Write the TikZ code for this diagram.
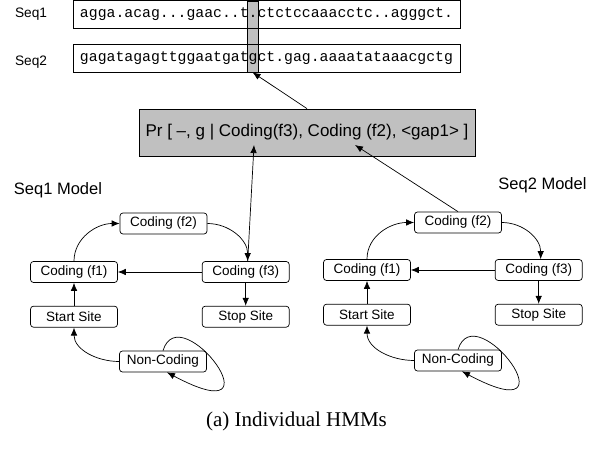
\documentclass[tikz,border=0pt]{standalone}
\usepackage{fontspec}
\setmainfont{Liberation Serif}
\setsansfont{Liberation Sans}
\setmonofont{Liberation Mono}
\usetikzlibrary{positioning,arrows.meta}
\usepackage{xcolor}
\definecolor{HMMGray}{RGB}{192,192,192}

\begin{document}
\begin{tikzpicture}[
x=1pt,y=1pt,
node distance=23pt and 84pt,
hmmstate/.style={rectangle,rounded corners=3pt,draw,line width=0.7pt,
minimum width=87pt,minimum height=21pt,inner sep=0pt,font=\sffamily\fontsize{13.5}{14}\selectfont},
seqbox/.style={rectangle,draw,line width=0.7pt,minimum width=387pt,minimum height=28pt,
inner sep=0pt,font=\ttfamily\fontsize{14.8}{15}\selectfont},
seqlabel/.style={font=\sffamily\fontsize{13.7}{14}\selectfont},
modellabel/.style={font=\sffamily\fontsize{16.5}{17}\selectfont},
arrow/.style={-{Latex[length=8pt,width=6.5pt]},line width=0.7pt}
]
\useasboundingbox (0,0) rectangle (603,455);
% sequences
\node[draw,line width=0.7pt,fill=HMMGray,minimum width=11pt,minimum height=71pt,inner sep=0pt] (col) at (252.5,418.5) {};
\node[seqlabel] (l1) at (31,441) {Seq1};
\node[seqlabel] (l2) at (31,393) {Seq2};
\node[seqbox] (seq1) at (266.5,440.5) {agga.acag...gaac..t.ctctccaaacctc..agggct.};
\node[seqbox] (seq2) at (266.5,397) {gagatagagttggaatgatgct.gag.aaaatataaacgctg};
\node[draw,line width=0.7pt,fill=HMMGray,minimum width=336pt,minimum height=47pt,
font=\sffamily\fontsize{17}{18}\selectfont] (pr) at (307,322.5) {Pr [ –, g | Coding(f3), Coding (f2), <gap1> ]};
\coordinate (pf3) at (254,310);
\coordinate (pf2) at (355,310);
% Seq1 model
\node[modellabel] (m1) at (58,265) {Seq1 Model};
\node[hmmstate] (s1f1) at (74,183) {Coding (f1)};
\node[hmmstate,right=of s1f1] (s1f3) {Coding (f3)};
\node[hmmstate,below=of s1f1] (s1start) {Start Site};
\node[hmmstate,below=of s1f3] (s1stop) {Stop Site};
\node[hmmstate] (s1f2) at (163.5,231.5) {Coding (f2)};
\node[hmmstate] (s1nc) at (163,93.5) {Non-Coding};
% Seq2 model
\node[modellabel] (m2) at (542.5,270) {Seq2 Model};
\node[hmmstate] (s2f1) at (367,185) {Coding (f1)};
\node[hmmstate,right=of s2f1] (s2f3) {Coding (f3)};
\node[hmmstate,below=of s2f1] (s2start) {Start Site};
\node[hmmstate,below=of s2f3] (s2stop) {Stop Site};
\node[hmmstate] (s2f2) at (458,232.5) {Coding (f2)};
\node[hmmstate] (s2nc) at (458,94.5) {Non-Coding};
\node[font=\fontsize{21}{23}\selectfont] (cap) at (296.5,34) {(a) Individual HMMs};
% transitions
\draw[arrow] (s1f1.north) to[out=90,in=180] (s1f2.west); \draw[arrow] (s1f2.east) to[out=0,in=90] ([xshift=2pt]s1f3.north);
\draw[arrow] (s1f3) -- (s1f1); \draw[arrow] (s1f3) -- (s1stop); \draw[arrow] (s1start) -- (s1f1);
\draw[arrow] (s1nc.west) to[out=180,in=-90] (s1start.south);
\draw[arrow] (s1nc.north) .. controls +(17,56) and +(118,-63) .. ([xshift=4pt]s1nc.south);
\draw[arrow] (s2f1.north) to[out=90,in=180] (s2f2.west); \draw[arrow] (s2f2.east) to[out=0,in=90] ([xshift=2pt]s2f3.north);
\draw[arrow] (s2f3) -- (s2f1); \draw[arrow] (s2f3) -- (s2stop); \draw[arrow] (s2start) -- (s2f1);
\draw[arrow] (s2nc.west) to[out=180,in=-90] (s2start.south);
\draw[arrow] (s2nc.north) .. controls +(17,56) and +(118,-63) .. ([xshift=4pt]s2nc.south);
% links to the column
\draw[arrow] (pr.north) -- (col.south);
\draw[arrow,{Latex[length=8pt,width=6.5pt]}-] (pf3) -- ([xshift=2pt]s1f3.north);
\draw[arrow] (s2f2.north) -- (pf2);
\end{tikzpicture}
\end{document}
